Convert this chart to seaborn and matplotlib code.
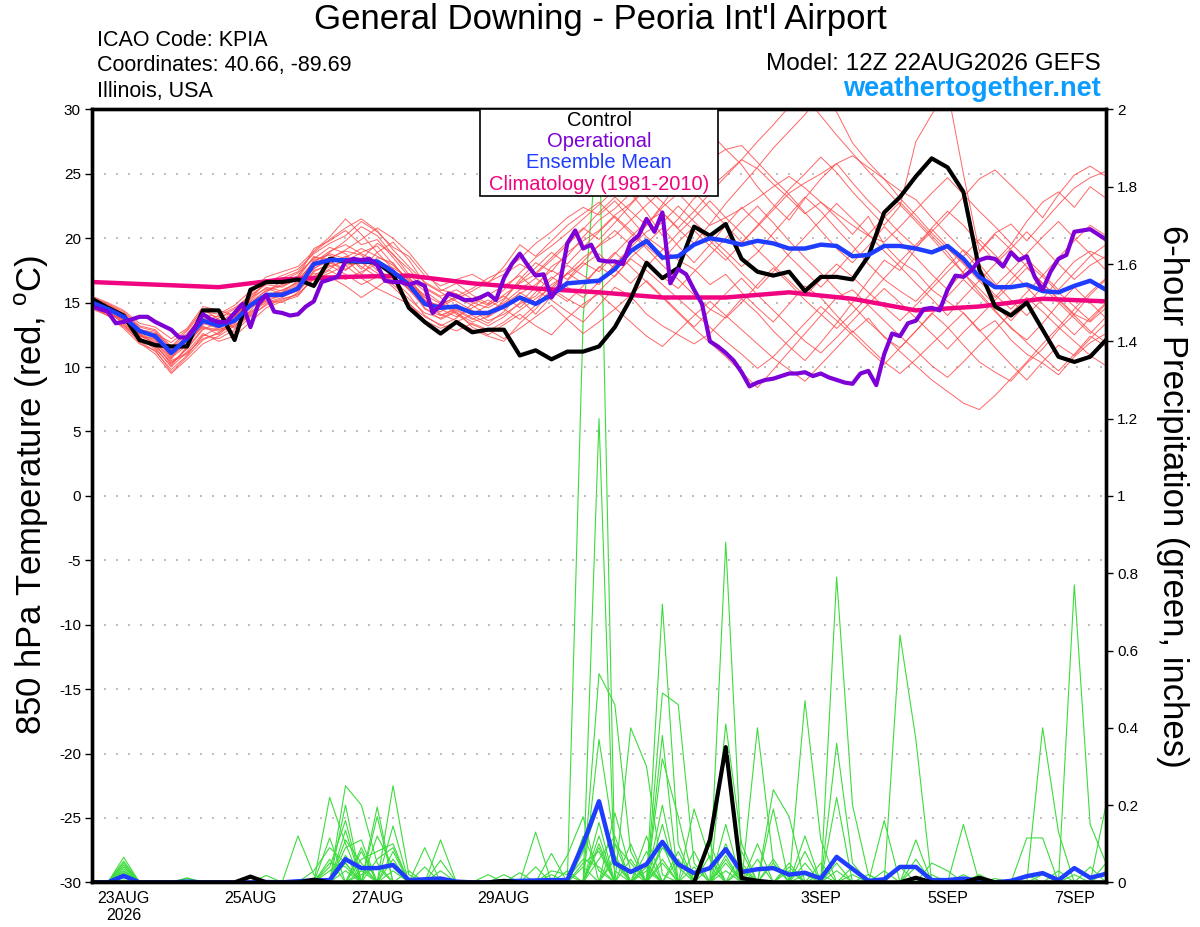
import numpy as np
import pandas as pd
import matplotlib
matplotlib.use("Agg")
import matplotlib.pyplot as plt
from matplotlib.patches import Rectangle
import seaborn as sns

# ---- data -------------------------------------------------------------
t_ctrl = [15.3, 14.6, 14.0, 12.1, 11.7, 11.6, 11.6, 14.4, 14.4, 12.1, 16.0, 16.6, 16.6,
          16.8, 16.3, 18.4, 18.2, 18.2, 18.1, 17.2, 14.6, 13.5, 12.6, 13.5, 12.7, 12.9,
          12.9, 10.9, 11.3, 10.6, 11.2, 11.2, 11.6, 13.1, 15.3, 18.1, 16.9, 17.7, 20.9,
          20.2, 21.1, 18.4, 17.4, 17.1, 17.4, 15.9, 17.0, 17.0, 16.8, 18.6, 22.0, 23.2,
          24.8, 26.2, 25.5, 23.6, 17.6, 14.7, 14.0, 15.0, 12.9, 10.8, 10.4, 10.8, 12.1]

t_mean = [15.0, 14.5, 13.9, 12.8, 12.4, 11.1, 12.2, 13.6, 13.2, 13.6, 14.8, 15.6, 15.6,
          16.1, 18.0, 18.3, 18.3, 18.2, 18.2, 17.4, 16.4, 14.9, 14.6, 14.7, 14.2, 14.2,
          14.7, 15.4, 14.9, 15.6, 16.5, 16.6, 16.7, 17.6, 19.0, 19.8, 18.5, 18.6, 19.5,
          20.0, 19.8, 19.5, 19.8, 19.6, 19.2, 19.2, 19.5, 19.4, 18.6, 18.7, 19.4, 19.4,
          19.2, 18.9, 19.4, 18.4, 17.0, 16.2, 16.2, 16.4, 15.9, 15.8, 16.3, 16.7, 16.0]

# operational run is 3-hourly
t_oper = [14.7, 14.5, 14.3, 13.4, 13.5, 13.7, 13.9, 13.9, 13.5, 13.2,
          12.9, 12.3, 12.3, 13.1, 14.1, 13.7, 13.5, 13.5, 14.2, 14.9,
          13.1, 14.9, 15.6, 14.3, 14.2, 14.0, 14.1, 14.7, 15.1, 16.6,
          16.8, 17.0, 18.2, 18.4, 18.3, 18.4, 17.9, 16.7, 16.6, 16.6,
          16.4, 16.6, 16.3, 14.2, 14.8, 15.7, 15.5, 15.2, 15.2, 15.4,
          15.7, 15.2, 16.9, 18.0, 18.8, 17.9, 17.1, 17.2, 15.4, 16.3,
          19.6, 20.6, 19.2, 19.5, 18.3, 18.2, 18.2, 18.0, 19.7, 20.2,
          21.5, 20.5, 22.0, 16.5, 17.6, 17.2, 16.0, 14.9, 12.0, 11.6,
          11.1, 10.5, 9.6, 8.5, 8.8, 9.0, 9.1, 9.3, 9.5, 9.5,
          9.6, 9.3, 9.5, 9.2, 9.0, 8.8, 8.7, 9.5, 9.7, 8.6,
          11.0, 12.6, 12.4, 13.4, 13.6, 14.5, 14.6, 14.4, 16.0, 17.1,
          17.0, 17.5, 18.3, 18.5, 18.4, 17.8, 18.9, 18.3, 18.6, 17.0,
          16.0, 17.4, 18.4, 18.7, 20.5, 20.6, 20.7, 20.3, 19.9]

# daily climatology (12Z)
t_clim = [16.6, 16.4, 16.2, 16.8, 17.0, 17.1, 16.5, 16.1, 15.8, 15.4, 15.4, 15.8,
          15.3, 14.4, 14.7, 15.3, 15.1]

# ensemble members, 850 hPa temperature
t01 = [15.2, 14.8, 14.0, 12.5, 11.8, 10.2, 11.5, 13.0, 12.8, 13.5, 14.9, 16.0, 16.4, 17.0, 19.2, 19.8, 20.6, 19.5, 19.9, 18.5, 17.0, 15.2, 14.0, 14.5, 13.8, 13.2, 13.9, 15.0, 16.2, 17.8, 18.6, 20.1, 21.4, 22.3, 23.5, 22.0, 20.2, 21.5, 23.1, 23.9, 25.0, 26.1, 25.4, 24.2, 23.1, 21.9, 22.8, 21.6, 20.3, 21.7, 19.5, 18.2, 17.4, 16.0, 15.1, 14.2, 12.8, 13.6, 12.1, 11.0, 10.3, 9.4, 10.8, 11.9, 12.6]
t02 = [14.8, 14.2, 13.5, 12.0, 11.2, 9.8, 10.9, 12.5, 12.2, 12.9, 14.1, 15.2, 15.0, 15.8, 17.5, 17.9, 17.2, 16.4, 17.0, 16.8, 15.6, 14.0, 13.2, 13.8, 14.9, 15.6, 16.3, 17.1, 16.0, 15.2, 14.3, 13.5, 14.8, 16.2, 15.5, 14.1, 13.2, 12.5, 11.8, 12.6, 13.9, 15.3, 14.2, 12.8, 11.6, 10.5, 11.9, 13.4, 15.0, 16.7, 18.3, 17.5, 19.2, 20.8, 22.1, 21.0, 19.6, 18.2, 19.5, 21.3, 22.8, 23.6, 22.4, 24.0, 23.1]
t03 = [15.4, 14.9, 14.3, 13.2, 12.9, 11.6, 12.8, 14.3, 14.1, 14.8, 15.9, 17.0, 17.4, 17.8, 19.0, 20.1, 21.5, 20.3, 18.9, 17.6, 16.0, 15.1, 14.8, 15.5, 16.1, 16.9, 17.5, 18.4, 19.6, 20.5, 21.6, 22.4, 21.8, 22.9, 21.5, 20.1, 19.2, 18.3, 17.6, 16.4, 17.2, 15.8, 14.6, 13.5, 14.9, 16.3, 15.4, 14.0, 12.7, 13.8, 12.3, 11.5, 12.8, 14.2, 13.1, 11.7, 10.4, 9.6, 8.9, 10.3, 11.4, 12.9, 14.1, 13.5, 14.6]
t04 = [15.0, 14.6, 14.1, 13.0, 12.2, 10.8, 11.9, 13.3, 13.8, 14.5, 15.6, 16.4, 16.2, 16.9, 18.6, 18.1, 17.5, 18.4, 19.6, 18.8, 17.2, 16.1, 15.4, 14.2, 13.5, 13.9, 15.2, 16.8, 18.1, 17.4, 18.9, 19.8, 20.6, 21.8, 22.7, 24.1, 25.3, 26.0, 27.4, 28.2, 26.9, 25.7, 24.0, 22.6, 21.4, 23.1, 24.6, 25.8, 24.3, 22.9, 21.7, 20.4, 19.3, 20.5, 21.8, 23.2, 24.6, 25.3, 24.1, 22.9, 21.6, 23.4, 24.9, 25.6, 24.8]
t05 = [14.6, 14.0, 13.2, 12.3, 11.5, 10.0, 11.2, 12.6, 12.0, 12.4, 13.5, 14.6, 15.1, 15.5, 17.0, 17.6, 18.5, 19.2, 18.6, 17.9, 16.8, 15.5, 14.1, 13.6, 12.9, 12.4, 12.0, 13.4, 14.5, 15.9, 15.1, 16.3, 17.8, 17.0, 18.5, 19.6, 20.8, 19.4, 18.1, 19.5, 21.0, 22.4, 21.2, 20.0, 18.6, 17.4, 16.2, 17.5, 18.9, 20.3, 21.6, 22.8, 21.5, 20.2, 18.9, 17.3, 15.8, 14.4, 13.0, 12.1, 13.4, 14.9, 16.2, 15.0, 13.8]
t06 = [15.3, 14.7, 13.8, 12.7, 12.6, 11.9, 12.9, 14.5, 13.7, 13.1, 14.4, 15.8, 16.7, 17.3, 18.4, 19.3, 18.8, 17.6, 18.9, 19.7, 18.3, 16.5, 15.8, 15.1, 14.4, 13.6, 14.1, 14.9, 15.5, 16.8, 17.9, 17.1, 16.4, 18.0, 19.3, 20.5, 21.2, 22.5, 21.3, 20.1, 19.0, 17.8, 18.9, 20.4, 21.8, 23.2, 22.1, 20.7, 19.4, 18.0, 16.8, 15.9, 15.1, 16.4, 17.8, 19.1, 18.0, 16.5, 15.2, 14.0, 15.3, 16.8, 18.2, 19.0, 18.4]
t07 = [14.9, 14.3, 13.6, 12.4, 11.9, 10.5, 11.1, 12.2, 12.6, 13.8, 15.2, 16.2, 15.9, 16.6, 17.8, 18.9, 19.8, 20.9, 20.2, 18.7, 17.6, 16.2, 15.5, 16.0, 15.3, 14.8, 15.6, 16.5, 17.2, 18.3, 19.5, 20.7, 22.0, 23.2, 22.1, 21.0, 22.6, 24.3, 25.5, 26.1, 26.9, 27.2, 25.9, 24.6, 23.4, 22.0, 20.6, 19.2, 18.1, 19.4, 20.9, 19.7, 18.5, 17.2, 16.0, 17.4, 18.9, 20.3, 19.1, 17.8, 16.5, 15.3, 14.1, 15.6, 16.8]
t08 = [15.1, 14.4, 13.3, 11.9, 11.0, 9.5, 10.6, 11.8, 12.4, 13.2, 14.3, 15.0, 15.4, 16.0, 17.3, 17.0, 16.3, 15.4, 16.2, 17.1, 16.0, 14.6, 13.7, 14.3, 13.1, 12.5, 13.3, 14.1, 13.2, 12.5, 13.8, 14.9, 15.7, 14.6, 13.5, 12.4, 11.6, 12.8, 14.0, 15.1, 14.0, 12.9, 11.8, 10.7, 9.8, 8.9, 10.2, 11.5, 12.8, 11.6, 10.4, 9.5, 10.6, 11.8, 13.0, 14.2, 12.9, 11.5, 10.2, 9.0, 10.4, 11.7, 10.9, 12.2, 13.4]
t09 = [15.5, 15.0, 14.4, 13.4, 13.1, 12.2, 13.0, 14.7, 14.4, 14.0, 15.3, 16.6, 17.1, 17.6, 18.8, 19.6, 20.2, 21.3, 20.5, 19.3, 18.6, 17.1, 16.3, 16.8, 17.2, 16.5, 17.8, 19.5, 18.6, 19.8, 21.0, 21.9, 22.8, 21.6, 20.4, 19.2, 17.9, 16.8, 15.6, 14.5, 13.8, 15.0, 16.4, 17.7, 16.5, 15.2, 14.1, 13.0, 14.2, 15.5, 16.9, 18.2, 19.5, 20.7, 19.4, 18.1, 16.9, 15.6, 14.5, 15.8, 17.1, 18.5, 19.8, 21.0, 20.2]
t10 = [14.7, 14.1, 13.7, 12.6, 11.7, 10.3, 11.4, 12.9, 13.5, 14.1, 14.9, 15.4, 15.8, 16.4, 17.6, 18.5, 19.0, 18.7, 17.5, 16.9, 16.1, 14.8, 14.3, 14.9, 14.0, 13.4, 14.3, 15.8, 15.0, 16.4, 17.2, 18.1, 17.4, 18.8, 20.1, 21.3, 22.0, 20.7, 19.6, 21.1, 22.7, 24.1, 25.5, 27.0, 28.3, 29.6, 31.2, 29.8, 27.4, 25.9, 24.6, 23.1, 21.8, 20.4, 19.2, 18.0, 16.7, 15.4, 16.8, 18.1, 17.0, 15.8, 14.7, 13.6, 14.9]
t11 = [15.2, 14.5, 13.9, 12.9, 12.5, 11.3, 12.0, 13.1, 12.9, 13.4, 14.6, 15.5, 16.0, 16.5, 18.3, 18.7, 17.9, 18.1, 17.3, 16.2, 15.0, 13.6, 13.0, 13.5, 14.1, 14.8, 15.5, 14.6, 15.8, 17.0, 16.2, 15.4, 16.6, 17.9, 19.2, 18.1, 17.0, 16.1, 17.4, 18.7, 20.0, 21.3, 22.5, 21.2, 19.8, 18.5, 17.3, 16.0, 14.8, 13.5, 12.4, 11.2, 10.1, 9.0, 8.1, 7.2, 6.7, 7.8, 9.1, 10.4, 11.8, 13.1, 12.0, 10.9, 10.1]
t12 = [14.8, 14.4, 13.9, 12.5, 12.0, 10.6, 12.5, 14.0, 13.6, 13.0, 14.2, 15.3, 15.5, 15.9, 17.1, 17.8, 18.2, 18.9, 19.4, 18.0, 16.7, 15.2, 14.7, 15.3, 15.9, 16.6, 17.2, 18.0, 17.3, 18.5, 19.7, 20.8, 19.9, 21.2, 22.6, 23.9, 22.8, 21.7, 20.6, 19.4, 18.3, 19.6, 21.0, 22.4, 23.8, 25.0, 26.3, 25.1, 23.6, 22.3, 21.0, 22.5, 27.5, 29.6, 31.5, 25.0, 19.0, 20.4, 21.1, 19.8, 21.2, 22.6, 23.9, 24.7, 25.2]
t13 = [15.0, 14.3, 13.4, 12.2, 11.4, 10.1, 11.6, 13.4, 13.0, 13.9, 15.4, 16.1, 15.7, 16.2, 17.4, 18.0, 18.6, 17.8, 17.0, 16.4, 15.3, 14.2, 13.8, 14.4, 13.7, 14.3, 15.0, 16.0, 16.9, 16.1, 15.3, 14.6, 15.9, 17.1, 18.4, 17.5, 16.4, 15.3, 14.2, 13.1, 12.0, 11.0, 9.9, 10.8, 12.1, 13.4, 14.7, 13.6, 12.5, 11.3, 10.2, 11.5, 12.8, 14.1, 15.5, 16.8, 15.6, 14.3, 13.1, 11.9, 10.8, 9.7, 11.0, 12.4, 11.6]
t14 = [15.3, 14.8, 14.2, 13.1, 12.8, 11.4, 12.4, 13.8, 13.4, 14.3, 15.1, 15.9, 16.3, 16.8, 18.1, 19.0, 19.5, 18.8, 18.2, 17.7, 16.9, 15.9, 15.0, 14.1, 13.3, 12.8, 13.5, 14.4, 15.3, 16.2, 17.3, 18.5, 19.4, 20.2, 21.4, 22.6, 23.7, 24.9, 23.6, 22.3, 21.0, 19.7, 20.9, 22.2, 23.5, 24.3, 25.0, 25.8, 26.4, 25.5, 24.6, 23.7, 23.0, 21.6, 20.3, 19.0, 17.6, 16.3, 17.5, 18.8, 20.1, 21.3, 20.0, 18.8, 17.5]
t15 = [14.5, 14.0, 13.0, 11.8, 11.3, 9.6, 10.8, 12.1, 12.7, 13.3, 14.0, 14.8, 15.2, 15.7, 16.8, 17.3, 17.9, 16.9, 16.1, 15.5, 14.9, 13.9, 13.3, 12.8, 13.4, 12.9, 12.2, 13.0, 13.9, 14.8, 13.7, 12.6, 13.5, 14.5, 15.6, 16.7, 15.5, 14.3, 13.1, 14.4, 15.7, 16.9, 15.6, 14.4, 13.2, 12.0, 11.1, 12.3, 13.6, 14.9, 16.1, 15.0, 13.8, 12.6, 11.4, 12.7, 13.9, 15.2, 16.4, 17.7, 16.5, 15.2, 14.0, 12.8, 11.9]
t16 = [15.1, 14.6, 14.0, 12.8, 12.3, 11.0, 12.3, 13.5, 14.0, 14.6, 15.5, 16.5, 16.9, 17.4, 18.9, 19.9, 20.8, 21.5, 20.6, 19.1, 17.8, 16.6, 15.9, 16.5, 15.6, 14.9, 16.0, 17.3, 18.5, 19.4, 20.4, 21.5, 22.6, 23.8, 24.5, 23.2, 22.0, 20.8, 22.1, 23.5, 24.8, 26.1, 27.5, 28.8, 30.2, 31.0, 29.5, 28.0, 26.6, 25.2, 23.9, 22.6, 21.3, 20.0, 18.6, 17.3, 16.1, 14.8, 13.6, 14.9, 16.2, 15.0, 13.8, 12.6, 13.9]
t17 = [14.9, 14.2, 13.7, 12.6, 12.1, 10.9, 11.8, 13.2, 12.5, 13.6, 14.7, 15.1, 15.6, 16.3, 17.7, 18.2, 17.6, 18.3, 17.9, 17.2, 16.3, 14.5, 14.0, 14.6, 14.3, 13.9, 14.6, 15.3, 14.1, 15.5, 16.7, 17.9, 18.8, 17.6, 16.5, 17.8, 19.1, 20.4, 21.6, 22.9, 21.6, 20.4, 19.1, 17.9, 16.7, 15.5, 16.8, 18.0, 17.0, 15.8, 14.7, 13.6, 14.8, 16.1, 17.4, 18.6, 19.9, 18.7, 17.4, 16.2, 14.9, 13.7, 12.5, 13.8, 15.0]
t18 = [15.4, 14.9, 14.1, 12.9, 12.7, 11.5, 12.6, 14.1, 13.9, 14.2, 15.7, 16.8, 16.5, 17.1, 18.5, 18.4, 19.1, 19.9, 20.8, 20.0, 18.9, 17.4, 16.0, 15.7, 15.0, 14.6, 15.3, 16.6, 17.7, 18.9, 18.0, 19.3, 20.5, 21.7, 20.6, 19.4, 18.3, 19.7, 20.9, 19.8, 18.6, 17.3, 16.1, 17.4, 18.8, 20.1, 21.4, 22.7, 21.5, 20.3, 19.0, 17.8, 16.5, 15.3, 14.0, 15.4, 16.7, 18.0, 19.2, 20.5, 19.3, 18.0, 16.8, 17.9, 18.6]
t19 = [14.7, 14.0, 13.1, 12.1, 11.6, 10.4, 11.0, 12.4, 13.1, 12.7, 13.9, 14.9, 15.3, 15.6, 16.9, 17.5, 16.8, 17.4, 18.0, 17.5, 16.6, 15.4, 14.5, 13.9, 14.6, 15.2, 14.5, 13.7, 14.8, 16.0, 17.3, 16.5, 17.7, 18.9, 17.8, 16.6, 15.4, 14.2, 13.0, 11.9, 10.8, 9.6, 8.4, 9.8, 11.2, 12.6, 14.0, 15.4, 16.0, 14.8, 13.6, 12.4, 11.3, 10.1, 9.2, 10.4, 11.7, 12.9, 14.2, 15.4, 14.3, 13.1, 14.5, 15.8, 16.9]
t20 = [15.0, 14.5, 13.6, 12.4, 12.2, 10.7, 11.7, 13.7, 13.3, 13.9, 15.0, 15.7, 15.8, 16.7, 18.2, 18.8, 18.4, 17.2, 18.5, 18.1, 16.5, 15.6, 14.9, 15.4, 14.8, 14.0, 14.9, 15.7, 16.4, 17.5, 16.8, 18.2, 19.5, 20.6, 19.5, 21.0, 22.4, 23.5, 22.2, 21.0, 21.6, 22.3, 23.1, 24.0, 24.8, 23.9, 22.8, 21.9, 21.0, 20.2, 19.7, 20.9, 22.2, 23.5, 24.7, 23.4, 22.1, 20.9, 19.6, 18.4, 17.2, 16.0, 17.3, 18.6, 19.5]

# 6-hour precipitation (inches): control and mean
p_ctrl = [0, 0, 0, 0, 0, 0, 0, 0, 0, 0, 0.015, 0, 0, 0, 0.007, 0, 0, 0, 0, 0, 0, 0,
          0, 0, 0, 0, 0.004, 0, 0, 0, 0, 0, 0, 0, 0, 0, 0, 0, 0, 0.11, 0.35, 0.011,
          0.004, 0, 0, 0, 0, 0, 0, 0, 0, 0, 0.012, 0, 0, 0, 0.012, 0, 0, 0, 0, 0, 0, 0, 0]
p_mean = [0, 0, 0.017, 0, 0, 0, 0.002, 0, 0, 0, 0, 0.001, 0, 0.003, 0.005, 0.006, 0.06,
          0.037, 0.037, 0.045, 0.006, 0.008, 0.01, 0.002, 0, 0, 0.003, 0.004, 0.005,
          0.006, 0.006, 0.10, 0.21, 0.05, 0.027, 0.047, 0.105, 0.047, 0.024, 0.037,
          0.086, 0.027, 0.034, 0.037, 0.02, 0.025, 0.01, 0.066, 0.035, 0.004, 0.008,
          0.04, 0.04, 0.006, 0.006, 0.01, 0.004, 0, 0.004, 0.016, 0.024, 0.006, 0.037,
          0.012, 0.022]

# members, only non-zero 6-h steps listed
p01 = {2: .065, 15: .22, 16: .1, 31: 1.46, 32: 1.98, 33: .05, 36: .06, 40: .05, 47: .79, 48: .2, 49: .02, 62: .02}
p02 = {2: .055, 16: .25, 17: .2, 18: .05, 32: 1.2, 35: .03, 40: .88, 41: .05, 55: .15, 62: .77, 63: .15, 64: .05}
p03 = {2: .045, 13: .12, 14: .02, 19: .25, 20: .02, 32: .54, 33: .46, 34: .08, 45: .47, 46: .11, 51: .64, 52: .37}
p04 = {2: .035, 16: .2, 18: .17, 22: .11, 32: .37, 33: .1, 36: .72, 37: .1, 42: .4, 43: .05, 60: .4, 61: .13, 64: .2}
p05 = {2: .028, 6: .012, 16: .135, 19: .146, 21: .09, 28: .13, 34: .4, 35: .3, 36: .02, 47: .36, 48: .05}
p06 = {2: .02, 11: .018, 15: .115, 17: .08, 29: .075, 32: .155, 36: .49, 37: .46, 38: .05, 43: .24, 44: .17, 52: .11}
p07 = {2: .012, 16: .07, 18: .195, 22: .057, 30: .07, 31: .17, 36: .38, 40: .41, 41: .1, 50: .16, 59: .115, 60: .115}
p08 = {2: .006, 15: .06, 17: .03, 19: .06, 26: .02, 31: .05, 32: .08, 36: .32, 37: .17, 43: .19, 47: .22, 64: .05}
p09 = {16: .09, 17: .11, 25: .02, 27: .025, 33: .1, 34: .05, 38: .19, 39: .06, 45: .05, 53: .05, 54: .03}
p10 = {2: .04, 6: .01, 14: .03, 15: .09, 16: .05, 21: .04, 29: .03, 30: .02, 32: .1, 35: .08, 40: .07, 44: .05, 48: .02}
p11 = {17: .06, 18: .08, 19: .1, 32: .06, 33: .12, 37: .08, 39: .1, 42: .06, 46: .05, 51: .04}
p12 = {2: .024, 15: .04, 16: .16, 20: .03, 31: .12, 32: .03, 34: .1, 36: .05, 41: .08, 44: .03, 52: .04}
p13 = {16: .03, 18: .12, 19: .04, 28: .04, 33: .06, 35: .12, 38: .04, 40: .15, 45: .08, 55: .02}
p14 = {2: .05, 17: .09, 22: .03, 31: .08, 32: .2, 33: .03, 36: .1, 39: .04, 43: .06, 47: .05, 56: .02}
p15 = {15: .05, 16: .04, 19: .08, 30: .03, 34: .06, 36: .15, 40: .03, 42: .1, 48: .04, 57: .01, 59: .02}
p16 = {2: .016, 16: .11, 17: .05, 29: .02, 32: .12, 35: .04, 37: .06, 41: .03, 45: .12, 50: .03, 61: .03}
p17 = {18: .06, 19: .09, 31: .04, 33: .18, 34: .03, 38: .08, 40: .06, 46: .02, 53: .02, 63: .04}
p18 = {2: .03, 15: .03, 16: .06, 17: .04, 32: .09, 36: .2, 39: .07, 44: .04, 52: .06, 64: .03}
p19 = {16: .05, 19: .03, 30: .01, 31: .06, 32: .04, 35: .05, 40: .1, 47: .03, 49: .02}
p20 = {17: .02, 18: .04, 33: .07, 36: .09, 37: .04, 41: .04, 43: .05, 45: .02, 54: .01, 60: .02}

tick_days = ["2026-08-23", "2026-08-25", "2026-08-27", "2026-08-29",
             "2026-09-01", "2026-09-03", "2026-09-05", "2026-09-07"]
tick_text = ["23AUG\n2026", "25AUG", "27AUG", "29AUG", "1SEP", "3SEP", "5SEP", "7SEP"]

# ---- frames -----------------------------------------------------------
t6 = pd.date_range("2026-08-22 12:00", periods=65, freq="6h")
t3 = pd.date_range("2026-08-22 12:00", periods=129, freq="3h")
t24 = pd.date_range("2026-08-22 12:00", periods=17, freq="24h")

t_members = [t01, t02, t03, t04, t05, t06, t07, t08, t09, t10,
             t11, t12, t13, t14, t15, t16, t17, t18, t19, t20]
p_members = [p01, p02, p03, p04, p05, p06, p07, p08, p09, p10,
             p11, p12, p13, p14, p15, p16, p17, p18, p19, p20]

rows = []
for m, vals in enumerate(t_members):
    assert len(vals) == 65, m
    for t, v in zip(t6, vals):
        rows.append((m, t, v))
ens_t = pd.DataFrame(rows, columns=["member", "time", "value"])

rows = []
for m, d in enumerate(p_members):
    vals = np.zeros(65)
    for k, v in d.items():
        vals[k] = v
    for t, v in zip(t6, vals):
        rows.append((m, t, v))
ens_p = pd.DataFrame(rows, columns=["member", "time", "value"])

# ---- plot -------------------------------------------------------------
sns.set_style("white")
plt.rcParams["font.family"] = ["Liberation Sans", "DejaVu Sans"]
plt.rcParams["mathtext.fontset"] = "custom"
plt.rcParams["mathtext.rm"] = "Liberation Sans"
plt.rcParams["axes.unicode_minus"] = False
for k in ("text.color", "axes.labelcolor", "xtick.color", "ytick.color"):
    plt.rcParams[k] = "black"

fig = plt.figure(figsize=(12, 9.27), dpi=100)
ax = fig.add_axes([92 / 1200, 44.6 / 927, 1014 / 1200, 773 / 927])
ax2 = ax.twinx()
ax.set_zorder(ax2.get_zorder() + 1)
ax.patch.set_visible(False)

RED = "#ff4b4b"
GREEN = "#3ddc3d"
BLUE = "#1f3dff"
PURPLE = "#7d00d6"
PINK = "#f0047f"

# precipitation (right axis)
sns.lineplot(data=ens_p, x="time", y="value", units="member", estimator=None,
             color=GREEN, lw=0.8, ax=ax2, legend=False)
sns.lineplot(x=t6, y=p_mean, color=BLUE, lw=3.2, ax=ax2)
sns.lineplot(x=t6, y=p_ctrl, color="black", lw=3.0, ax=ax2)

# temperature (left axis)
sns.lineplot(data=ens_t, x="time", y="value", units="member", estimator=None,
             color=RED, lw=0.7, alpha=0.85, ax=ax, legend=False)
sns.lineplot(x=t24, y=t_clim, color=PINK, lw=3.2, ax=ax)
sns.lineplot(x=t6, y=t_ctrl, color="black", lw=3.0, ax=ax)
sns.lineplot(x=t6, y=t_mean, color=BLUE, lw=3.2, ax=ax)
sns.lineplot(x=t3, y=t_oper, color=PURPLE, lw=3.0, ax=ax)

ax.set_xlim(t6[0], t6[-1])
ax.set_ylim(-30, 30)
ax2.set_ylim(0, 2)
ax.set_yticks(range(-30, 31, 5))
ax2.set_yticks(np.arange(0, 2.01, 0.2))
ax2.set_yticklabels(["%g" % round(v, 1) for v in np.arange(0, 2.01, 0.2)])
ax.set_xticks(pd.to_datetime(tick_days))
ax.set_xticklabels(tick_text)
for a in (ax, ax2):
    a.set_xlabel("")
    a.set_ylabel("")
    a.tick_params(axis="y", direction="out", length=5, width=1, labelsize=11, pad=3)
    a.tick_params(axis="x", length=0, labelsize=11.5, pad=6)
    for s in a.spines.values():
        s.set_linewidth(2.4)
        s.set_color("black")

for y in range(-25, 30, 5):
    ax.axhline(y, color="#b4b4b4", lw=1.2, ls=(0, (1.2, 6)), zorder=0)

# legend box
ax.add_patch(Rectangle((0.3826, 0.888), 0.2347, 0.112, transform=ax.transAxes,
                       facecolor="white", edgecolor="black", lw=1.2, zorder=10))
for yy, txt, col in [(0.985, "Control", "black"), (0.958, "Operational", PURPLE),
                     (0.931, "Ensemble Mean", BLUE),
                     (0.903, "Climatology (1981-2010)", PINK)]:
    ax.text(0.5, yy, txt, color=col, fontsize=14.5, ha="center", va="center",
            transform=ax.transAxes, zorder=11)

# header texts
fig.text(0.5, 1 - 19 / 927, "General Downing - Peoria Int'l Airport",
         fontsize=25, ha="center", va="center")
fig.text(97 / 1200, 1 - 40 / 927, "ICAO Code: KPIA", fontsize=15.5, va="center")
fig.text(97 / 1200, 1 - 66 / 927, "Coordinates: 40.66, -89.69", fontsize=15.5, va="center")
fig.text(97 / 1200, 1 - 92 / 927, "Illinois, USA", fontsize=15.5, va="center")
fig.text(1101 / 1200, 1 - 64 / 927, "Model: 12Z 22AUG2026 GEFS", fontsize=17.5,
         ha="right", va="center")
fig.text(1101 / 1200, 1 - 89 / 927, "weathertogether.net", fontsize=19.5,
         fontweight="bold", color="#0a9cff", ha="right", va="center")

fig.text(32 / 1200, 1 - 495 / 927, r"850 hPa Temperature (red, $^{\rm o}$C)",
         fontsize=25, rotation=90, ha="center", va="center")
fig.text(1172 / 1200, 1 - 496 / 927, "6-hour Precipitation (green, inches)",
         fontsize=25, rotation=270, ha="center", va="center")

fig.savefig("out.png", dpi=100)
